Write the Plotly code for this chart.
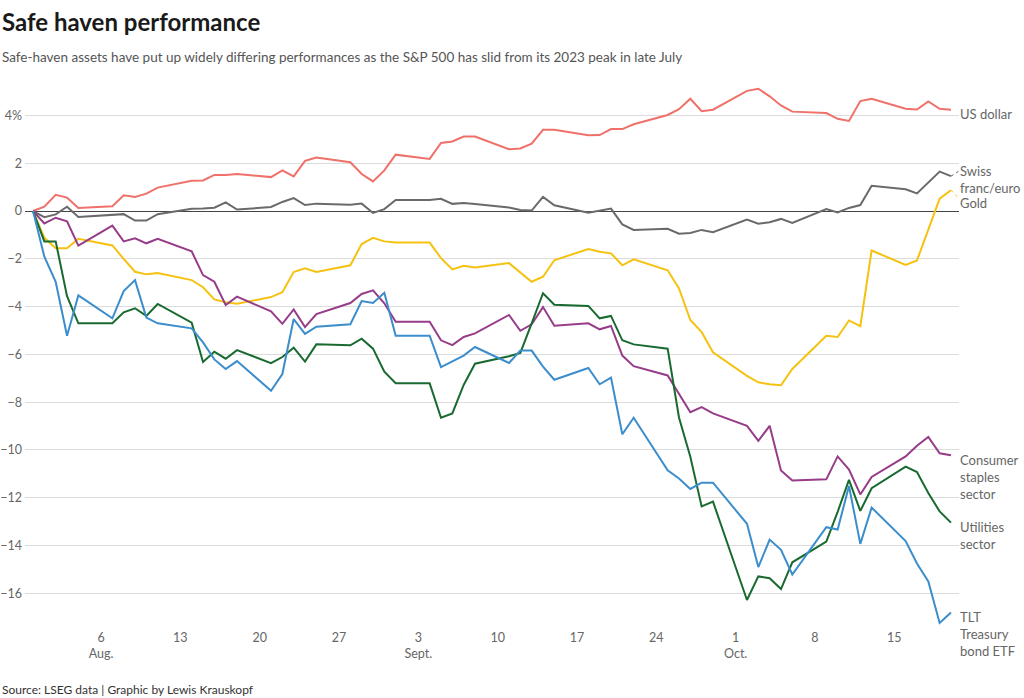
import plotly.graph_objects as go

dates = [
    "2023-07-31", "2023-08-01", "2023-08-02", "2023-08-03", "2023-08-04",
    "2023-08-07", "2023-08-08", "2023-08-09", "2023-08-10", "2023-08-11",
    "2023-08-14", "2023-08-15", "2023-08-16", "2023-08-17", "2023-08-18",
    "2023-08-21", "2023-08-22", "2023-08-23", "2023-08-24", "2023-08-25",
    "2023-08-28", "2023-08-29", "2023-08-30", "2023-08-31", "2023-09-01",
    "2023-09-04", "2023-09-05", "2023-09-06", "2023-09-07", "2023-09-08",
    "2023-09-11", "2023-09-12", "2023-09-13", "2023-09-14", "2023-09-15",
    "2023-09-18", "2023-09-19", "2023-09-20", "2023-09-21", "2023-09-22",
    "2023-09-25", "2023-09-26", "2023-09-27", "2023-09-28", "2023-09-29",
    "2023-10-02", "2023-10-03", "2023-10-04", "2023-10-05", "2023-10-06",
    "2023-10-09", "2023-10-10", "2023-10-11", "2023-10-12", "2023-10-13",
    "2023-10-16", "2023-10-17", "2023-10-18", "2023-10-19", "2023-10-20",
]

us_dollar = [
    0, 0.18, 0.68, 0.56, 0.13,
    0.20, 0.66, 0.59, 0.73, 0.98,
    1.27, 1.28, 1.51, 1.51, 1.55,
    1.42, 1.70, 1.45, 2.10, 2.24,
    2.04, 1.55, 1.24, 1.70, 2.36,
    2.18, 2.85, 2.91, 3.12, 3.12,
    2.59, 2.62, 2.82, 3.40, 3.40,
    3.17, 3.18, 3.43, 3.43, 3.63,
    4.02, 4.26, 4.70, 4.18, 4.24,
    5.03, 5.12, 4.80, 4.42, 4.16,
    4.10, 3.86, 3.77, 4.60, 4.70,
    4.28, 4.25, 4.59, 4.28, 4.24,
]

swiss_franc_euro = [
    0, -0.26, -0.14, 0.18, -0.25,
    -0.14, -0.13, -0.40, -0.40, -0.13,
    0.10, 0.11, 0.14, 0.36, 0.06,
    0.17, 0.38, 0.54, 0.25, 0.31,
    0.26, 0.31, -0.08, 0.08, 0.46,
    0.46, 0.51, 0.30, 0.34, 0.29,
    0.15, 0.04, 0.02, 0.59, 0.24,
    -0.07, 0.00, 0.10, -0.56, -0.79,
    -0.74, -0.95, -0.92, -0.79, -0.89,
    -0.36, -0.53, -0.47, -0.33, -0.50,
    0.08, -0.06, 0.13, 0.25, 1.06,
    0.91, 0.74, 1.21, 1.65, 1.46,
]

gold = [
    0, -1.12, -1.56, -1.56, -1.16,
    -1.44, -2.00, -2.54, -2.65, -2.59,
    -2.89, -3.19, -3.70, -3.82, -3.88,
    -3.60, -3.40, -2.55, -2.40, -2.55,
    -2.27, -1.38, -1.12, -1.27, -1.32,
    -1.32, -1.97, -2.44, -2.29, -2.36,
    -2.18, -2.58, -2.96, -2.75, -2.06,
    -1.59, -1.70, -1.77, -2.27, -2.02,
    -2.48, -3.24, -4.56, -5.07, -5.91,
    -6.90, -7.17, -7.25, -7.29, -6.61,
    -5.22, -5.27, -4.58, -4.82, -1.65,
    -2.26, -2.07, -0.78, 0.52, 0.87,
]

consumer_staples = [
    0, -0.52, -0.28, -0.43, -1.45,
    -0.61, -1.27, -1.14, -1.35, -1.16,
    -1.69, -2.68, -2.96, -3.93, -3.58,
    -4.20, -4.72, -4.12, -4.86, -4.31,
    -3.85, -3.47, -3.32, -3.86, -4.63,
    -4.63, -5.41, -5.61, -5.27, -5.12,
    -4.35, -5.01, -4.74, -4.02, -4.80,
    -4.70, -4.95, -4.81, -6.05, -6.49,
    -6.88, -7.68, -8.42, -8.21, -8.47,
    -8.99, -9.62, -8.99, -10.86, -11.28,
    -11.23, -10.27, -10.82, -11.86, -11.13,
    -10.27, -9.82, -9.45, -10.14, -10.22,
]

utilities = [
    0, -1.27, -1.27, -3.56, -4.70,
    -4.70, -4.24, -4.07, -4.39, -3.89,
    -4.67, -6.32, -5.89, -6.18, -5.82,
    -6.37, -6.11, -5.72, -6.30, -5.58,
    -5.62, -5.34, -5.76, -6.72, -7.21,
    -7.21, -8.65, -8.47, -7.28, -6.39,
    -6.08, -5.94, -4.70, -3.44, -3.92,
    -3.97, -4.49, -4.39, -5.41, -5.58,
    -5.76, -8.64, -10.28, -12.36, -12.16,
    -16.28, -15.29, -15.37, -15.82, -14.70,
    -13.83, -12.59, -11.25, -12.55, -11.60,
    -10.70, -10.92, -11.80, -12.57, -13.04,
]

tlt = [
    0, -1.91, -2.96, -5.22, -3.53,
    -4.49, -3.35, -2.89, -4.46, -4.70,
    -4.91, -5.50, -6.21, -6.61, -6.28,
    -7.52, -6.82, -4.52, -5.14, -4.84,
    -4.74, -3.77, -3.85, -3.42, -5.22,
    -5.22, -6.53, -6.30, -6.05, -5.69,
    -6.36, -5.84, -5.84, -6.51, -7.06,
    -6.57, -7.25, -6.97, -9.34, -8.65,
    -10.85, -11.19, -11.63, -11.37, -11.37,
    -13.09, -14.90, -13.75, -14.18, -15.21,
    -13.23, -13.33, -11.51, -13.93, -12.41,
    -13.81, -14.75, -15.50, -17.24, -16.80,
]

series_names = ["US dollar", "Swiss franc/euro", "Gold", "Consumer staples sector",
                "Utilities sector", "TLT Treasury bond ETF"]
series_values = [us_dollar, swiss_franc_euro, gold, consumer_staples, utilities, tlt]
series_colors = ["#f0706a", "#6a6a6a", "#f5c211", "#973c88", "#186a30", "#3b8dcc"]
label_texts = ["US dollar", "Swiss<br>franc/euro", "Gold", "Consumer<br>staples<br>sector",
               "Utilities<br>sector", "TLT<br>Treasury<br>bond ETF"]
label_y = [4.05, 1.32, 0.33, -11.13, -13.58, -17.7]

x_tickvals = ["2023-08-06", "2023-08-13", "2023-08-20", "2023-08-27", "2023-09-03",
              "2023-09-10", "2023-09-17", "2023-09-24", "2023-10-01", "2023-10-08",
              "2023-10-15"]
x_ticktext = ["6<br>Aug.", "13", "20", "27", "3<br>Sept.", "10", "17", "24",
              "1<br>Oct.", "8", "15"]
y_tickvals = [4, 2, 0, -2, -4, -6, -8, -10, -12, -14, -16]
y_ticktext = ["4%", "2", "0", "\u22122", "\u22124", "\u22126", "\u22128", "\u221210",
              "\u221212", "\u221214", "\u221216"]

FONT = "Lato, sans-serif"
Y_MIN, Y_MAX = -17.45, 5.4

fig = go.Figure()
for name, vals, col in zip(series_names, series_values, series_colors):
    fig.add_trace(go.Scatter(x=dates, y=vals, mode="lines", name=name,
                             line=dict(color=col, width=2), hoverinfo="x+y+name"))

L, R, T, B = 25, 65, 82, 70
W, H = 1024, 698
pw, ph = W - L - R, H - T - B

annotations = []
for txt, yv in zip(label_texts, label_y):
    annotations.append(dict(text=txt, x=1, xref="paper", xanchor="left", xshift=-1,
                            y=(yv - Y_MIN) / (Y_MAX - Y_MIN), yref="paper",
                            yanchor="middle", showarrow=False,
                            align="left", font=dict(family=FONT, size=13, color="#666666")))

def py(px):
    return (H - B - px) / ph

annotations += [
    dict(text="<b>Safe haven performance</b>", x=-L / pw, xref="paper", xanchor="left",
         y=py(22), yref="paper", yanchor="middle", showarrow=False,
         font=dict(family=FONT, size=24, color="#1a1a1a")),
    dict(text="Safe-haven assets have put up widely differing performances as the S&P 500 has slid from its 2023 peak in late July",
         x=-L / pw, xref="paper", xanchor="left", y=py(57), yref="paper", yanchor="middle",
         showarrow=False, font=dict(family=FONT, size=13.5, color="#555555")),
    dict(text="Source: LSEG data | Graphic by Lewis Krauskopf", x=-L / pw, xref="paper",
         xanchor="left", y=py(689), yref="paper", yanchor="middle", showarrow=False,
         font=dict(family=FONT, size=12, color="#333333")),
]

# small dotted leaders for the Swiss franc and Gold labels
shapes = [
    dict(type="line", xref="paper", yref="y", x0=0.9915, x1=0.9995,
         y0=swiss_franc_euro[-1], y1=1.66, line=dict(color="#6a6a6a", width=1, dash="dot")),
    dict(type="line", xref="paper", yref="y", x0=0.9915, x1=0.9995,
         y0=gold[-1], y1=0.55, line=dict(color="#f5c211", width=1, dash="dot")),
]

fig.update_layout(
    width=W, height=H,
    margin=dict(l=L, r=R, t=T, b=B, autoexpand=False),
    paper_bgcolor="white", plot_bgcolor="white",
    showlegend=False,
    font=dict(family=FONT, size=12, color="#666666"),
    annotations=annotations,
    shapes=shapes,
    xaxis=dict(type="date", range=["2023-07-30 07:00", "2023-10-20 17:00"],
               tickvals=x_tickvals, ticktext=x_ticktext, tickmode="array",
               showgrid=False, zeroline=False, showline=False, ticks="",
               automargin=False,
               tickfont=dict(family=FONT, size=12.5, color="#666666")),
    yaxis=dict(range=[Y_MIN, Y_MAX], tickvals=y_tickvals, ticktext=y_ticktext,
               tickmode="array", showgrid=True, gridcolor="#dcdcdc", gridwidth=1,
               zeroline=True, zerolinecolor="#444444", zerolinewidth=1.2,
               showline=False, ticks="", ticklabelstandoff=2, automargin=False,
               tickfont=dict(family=FONT, size=12.5, color="#666666")),
)

fig.write_html("out.html", config={"displayModeBar": False},
               post_script="document.body.style.margin='0';document.body.style.overflow='hidden';")
